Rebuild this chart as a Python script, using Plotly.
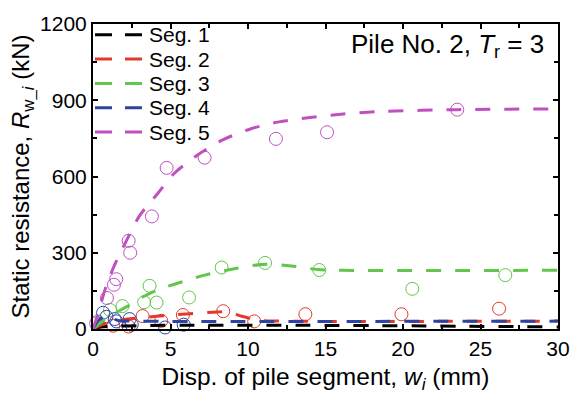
import plotly.graph_objects as go

# Measured static resistance of each pile segment (open circles)
seg1_w = []
seg1_r = []
seg2_w = [1.3, 2.3, 3.2, 4.4, 5.8, 8.4, 10.4, 13.7, 19.9, 26.2]
seg2_r = [13, 10, 51, 32, 55, 70, 30, 58, 58, 80]
seg3_w = [0.3, 1.1, 1.9, 3.3, 3.65, 4.1, 6.2, 8.3, 11.1, 14.6, 20.6, 26.6]
seg3_r = [30, 75, 90, 105, 170, 104, 124, 242, 260, 232, 158, 212]
seg4_w = [0.65, 0.87, 1.4, 1.5, 2.36, 2.5, 4.65, 5.85]
seg4_r = [64, 48, 39, 30, 39, 17, 6, 17]
seg5_w = [0.2, 0.9, 1.35, 1.5, 2.3, 2.4, 3.8, 4.75, 7.2, 11.8, 15.1, 23.5]
seg5_r = [22, 122, 174, 196, 347, 300, 443, 634, 674, 748, 774, 863]

# Fitted load-transfer curves (dashed)
fit1_w = [0, 0.5, 30]
fit1_r = [0, 8, 8]
fit2_w = [0, 0.5, 1.2, 2.2, 4.1, 6.0, 8.0, 8.7, 9.6, 10.8, 12.0, 30]
fit2_r = [0, 15, 28, 39, 50, 59, 67, 67, 50, 34, 31, 31]
fit3_w = [0, 0.5, 1.2, 2.3, 3.2, 4.2, 5.3, 7.2, 9.2, 11.1, 12.8, 14.5, 16.0, 30]
fit3_r = [0, 25, 55, 92, 126, 155, 177, 212, 238, 255, 248, 234, 231, 231]
fit4_w = [0, 0.3, 0.7, 1.0, 1.3, 1.7, 2.5, 30]
fit4_r = [0, 30, 50, 52, 40, 33, 31, 31]
fit5_w = [0, 0.4, 0.77, 1.3, 2.15, 3.0, 4.2, 5.2, 6.7, 8.4, 10.2, 12.0,
          14.0, 16.0, 18.3, 23.5, 30]
fit5_r = [0, 75, 154, 239, 347, 445, 535, 610, 683, 745, 788, 815,
          832, 845, 855, 863, 866]

names = ["Seg. 1", "Seg. 2", "Seg. 3", "Seg. 4", "Seg. 5"]
colors = ["#000000", "#e5382b", "#62c64c", "#2d43a2", "#c04fc0"]
points = [(seg1_w, seg1_r), (seg2_w, seg2_r), (seg3_w, seg3_r),
          (seg4_w, seg4_r), (seg5_w, seg5_r)]
fits = [(fit1_w, fit1_r), (fit2_w, fit2_r), (fit3_w, fit3_r),
        (fit4_w, fit4_r), (fit5_w, fit5_r)]

font = "Arial, Liberation Sans, sans-serif"
dash = "15px,14px"
fig = go.Figure()

for (pw, pr), c in zip(points, colors):
    fig.add_trace(go.Scatter(
        x=pw, y=pr, mode="markers", showlegend=False, cliponaxis=False,
        marker=dict(symbol="circle-open", size=13, color=c,
                    line=dict(width=1, color=c))))

for (fw, fr), c, n in zip(fits, colors, names):
    fig.add_trace(go.Scatter(
        x=fw, y=fr, mode="lines", name=n, showlegend=False,
        line=dict(color=c, width=3, dash=dash, shape="spline",
                  smoothing=0.8)))

axis_common = dict(showline=True, linecolor="black", linewidth=2,
                   mirror="ticks", ticks="inside", ticklen=5, tickwidth=1.5,
                   tickcolor="black", showgrid=False, zeroline=False,
                   tickfont=dict(family=font, size=21, color="black"))

fig.update_xaxes(range=[0, 30], tickvals=[0, 5, 10, 15, 20, 25, 30],
                 minor=dict(ticks="inside", ticklen=4, dtick=2.5,
                            tickcolor="black", tickwidth=1.5),
                 title=dict(text="Disp. of pile segment, <i>w</i><sub><i>i</i></sub> (mm)",
                            font=dict(family=font, size=24.5, color="black"),
                            standoff=9),
                 **axis_common)
fig.update_yaxes(range=[0, 1200], tickvals=[0, 300, 600, 900, 1200],
                 minor=dict(ticks="inside", ticklen=4, dtick=150,
                            tickcolor="black", tickwidth=1.5),
                 title=dict(text="Static resistance, <i>R</i><sub>w_<i>i</i></sub> (kN)",
                            font=dict(family=font, size=24, color="black"),
                            standoff=4),
                 **axis_common)

# Legend block in the upper-left corner of the plotting area
plot_top, plot_h = 19, 311
for k, (n, c) in enumerate(zip(names, colors)):
    ypx = 30 + 24.8 * k
    yp = 1 - (ypx - plot_top) / plot_h
    fig.add_shape(type="line", xref="paper", yref="paper",
                  x0=2 / 470, x1=50 / 470, y0=yp, y1=yp,
                  line=dict(color=c, width=3, dash="17px,13px"))
    fig.add_annotation(x=55 / 470, y=yp, xref="paper", yref="paper",
                       xanchor="left", yanchor="middle", showarrow=False,
                       text=n, font=dict(family=font, size=21, color="black"))

fig.add_annotation(x=0.975, y=1 - (41 - plot_top) / plot_h,
                   xref="paper", yref="paper",
                   xanchor="right", yanchor="middle", showarrow=False,
                   text="Pile No. 2, <i>T</i><sub>r</sub> = 3",
                   font=dict(family=font, size=26, color="black"))

fig.update_layout(
    width=582, height=398,
    margin=dict(l=93, r=19, t=19, b=68),
    paper_bgcolor="white", plot_bgcolor="white",
    showlegend=False,
)

fig.write_html("out.html")
